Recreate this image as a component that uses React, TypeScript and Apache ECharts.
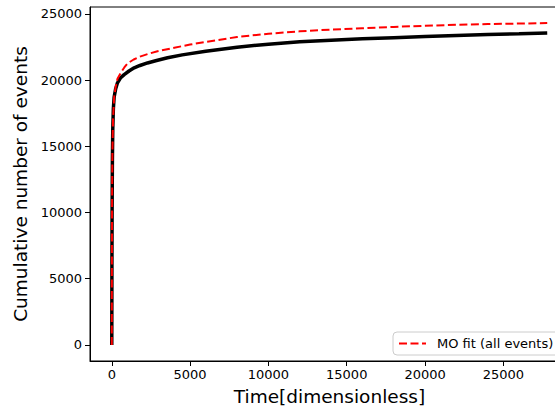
import React, { useEffect, useRef } from "react";
import * as echarts from "echarts";

const xTicks = [0, 5000, 10000, 15000, 20000, 25000];
const yTicks = [0, 5000, 10000, 15000, 20000, 25000];

const dataT = [0, 5, 10, 20, 40, 64, 100, 150, 250, 365, 550, 790, 1100, 1430, 1800, 2280, 2800, 3560, 4500, 6000, 8000, 10000, 12000, 14000, 16000, 18000, 20000, 22000, 24000, 26000, 27800];
const dataN = [0, 3000, 6000, 10000, 14000, 16300, 17800, 18700, 19350, 19790, 20150, 20410, 20680, 20920, 21100, 21290, 21460, 21680, 21900, 22170, 22480, 22710, 22890, 23010, 23110, 23200, 23290, 23370, 23430, 23490, 23550];

const fitT = [0, 5, 10, 20, 40, 80, 150, 250, 365, 575, 800, 1000, 1400, 1850, 2400, 2920, 3990, 5000, 6000, 8000, 10000, 12000, 14000, 16000, 18000, 20000, 22000, 24000, 26000, 27800];
const fitN = [0, 4000, 7500, 11000, 14500, 17000, 18700, 19500, 20100, 20540, 20950, 21250, 21550, 21790, 22000, 22170, 22440, 22680, 22880, 23250, 23500, 23680, 23810, 23910, 24010, 24100, 24170, 24225, 24265, 24300];

const FONT = "DejaVu Sans";

export default function App() {
  const ref = useRef<HTMLDivElement>(null);
  useEffect(() => {
    if (!ref.current) return;
    const chart = echarts.init(ref.current, null, { renderer: "svg" });
    chart.setOption({
      animation: false,
      backgroundColor: "#fff",
      grid: {
        left: 90,
        top: 7,
        right: 1,
        bottom: 49,
        show: true,
        borderColor: "#000",
        borderWidth: 1,
        backgroundColor: "transparent",
      },
      legend: {
        data: ["MO fit (all events)"],
        left: 393,
        top: 332,
        padding: [5, 6, 5, 5],
        itemWidth: 27,
        itemHeight: 14,
        borderColor: "#cccccc",
        borderWidth: 1,
        borderRadius: 4,
        backgroundColor: "rgba(255,255,255,0.8)",
        itemStyle: { opacity: 0 },
        textStyle: { fontFamily: FONT, fontSize: 13, color: "#000", padding: [0, 0, 0, 6] },
      },
      xAxis: {
        type: "value",
        min: -1390,
        max: 29190,
        name: "Time[dimensionless]",
        nameLocation: "middle",
        nameGap: 26,
        nameTextStyle: { fontFamily: FONT, fontSize: 18.5, color: "#000" },
        axisLine: { show: true, onZero: false, lineStyle: { color: "#000", width: 1 } },
        axisTick: { show: true, length: 5, lineStyle: { color: "#000" }, customValues: xTicks },
        axisLabel: {
          margin: 7,
          fontFamily: FONT,
          fontSize: 13,
          color: "#000",
          customValues: xTicks,
          formatter: (v: number) => String(v),
        },
        splitLine: { show: false },
      },
      yAxis: {
        type: "value",
        min: -1215,
        max: 25515,
        name: "Cumulative number of events",
        nameLocation: "middle",
        nameGap: 50,
        nameTextStyle: { fontFamily: FONT, fontSize: 18.5, color: "#000" },
        axisLine: { show: true, onZero: false, lineStyle: { color: "#000", width: 1 } },
        axisTick: { show: true, length: 5, lineStyle: { color: "#000" }, customValues: yTicks },
        axisLabel: {
          margin: 8,
          fontFamily: FONT,
          fontSize: 13,
          color: "#000",
          customValues: yTicks,
          formatter: (v: number) => String(v),
        },
        splitLine: { show: false },
      },
      series: [
        {
          name: "data",
          type: "line",
          symbol: "none",
          data: dataT.map((t, i) => [t, dataN[i]]),
          lineStyle: { color: "#000", width: 3.5 },
          itemStyle: { color: "#000" },
          z: 2,
        },
        {
          name: "MO fit (all events)",
          type: "line",
          symbol: "none",
          data: fitT.map((t, i) => [t, fitN[i]]),
          lineStyle: { color: "#ff0000", width: 2, type: [8, 3.5] },
          itemStyle: { color: "#ff0000" },
          z: 3,
        },
      ],
    });
    return () => chart.dispose();
  }, []);
  return (
    <div
      style={{ position: "fixed", left: 0, top: 0, width: 555, height: 411, overflow: "hidden", background: "#fff" }}
    >
      <div ref={ref} style={{ position: "absolute", left: 0, top: 0, width: 570, height: 411 }} />
    </div>
  );
}
